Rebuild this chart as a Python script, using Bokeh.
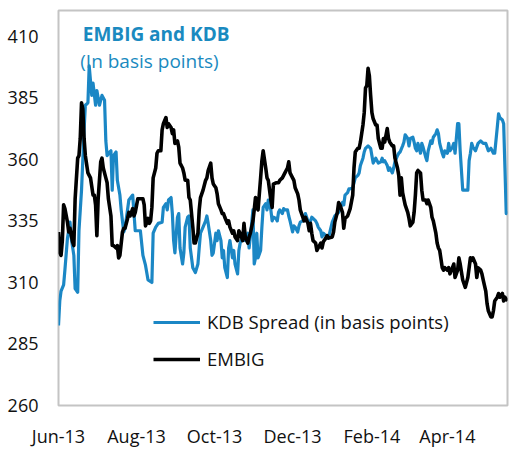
import pandas as pd
from bokeh.plotting import figure
from bokeh.models import Range1d, FixedTicker, DatetimeTickFormatter, Legend, LegendItem, Label
from bokeh.embed import file_html
from bokeh.resources import INLINE

# ---------------- data ----------------
kdb_dates = [
    "2013-06-01", "2013-06-02", "2013-06-03", "2013-06-05", "2013-06-06", "2013-06-08", "2013-06-10", "2013-06-11", "2013-06-13", "2013-06-14",
    "2013-06-16", "2013-06-17", "2013-06-19", "2013-06-21", "2013-06-22", "2013-06-24", "2013-06-25", "2013-06-27", "2013-06-28", "2013-06-30",
    "2013-07-01", "2013-07-03", "2013-07-05", "2013-07-07", "2013-07-08", "2013-07-09", "2013-07-11", "2013-07-12", "2013-07-13", "2013-07-14",
    "2013-07-16", "2013-07-17", "2013-07-19", "2013-07-20", "2013-07-22", "2013-07-23", "2013-07-26", "2013-07-29", "2013-07-31",
    "2013-08-02", "2013-08-04", "2013-08-06", "2013-08-08", "2013-08-10", "2013-08-13", "2013-08-14", "2013-08-16", "2013-08-18", "2013-08-21",
    "2013-08-22", "2013-08-24", "2013-08-25", "2013-08-26", "2013-08-28", "2013-08-29", "2013-08-30", "2013-08-31",
    "2013-09-02", "2013-09-03", "2013-09-04", "2013-09-06", "2013-09-07", "2013-09-08", "2013-09-10", "2013-09-11", "2013-09-12", "2013-09-14",
    "2013-09-16", "2013-09-18", "2013-09-19", "2013-09-20", "2013-09-22", "2013-09-24", "2013-09-25", "2013-09-26", "2013-09-28", "2013-09-29", "2013-09-30",
    "2013-10-02", "2013-10-03", "2013-10-04", "2013-10-06", "2013-10-07", "2013-10-08", "2013-10-09", "2013-10-11", "2013-10-12", "2013-10-13",
    "2013-10-15", "2013-10-16", "2013-10-17", "2013-10-19", "2013-10-20", "2013-10-21", "2013-10-23", "2013-10-24", "2013-10-25", "2013-10-27",
    "2013-10-28", "2013-10-29", "2013-10-31",
    "2013-11-01", "2013-11-02", "2013-11-03", "2013-11-04", "2013-11-06", "2013-11-07", "2013-11-08", "2013-11-10", "2013-11-11", "2013-11-12",
    "2013-11-14", "2013-11-15", "2013-11-16", "2013-11-18", "2013-11-19", "2013-11-20", "2013-11-21", "2013-11-23", "2013-11-24", "2013-11-25",
    "2013-11-27", "2013-11-28", "2013-11-29",
    "2013-12-01", "2013-12-02", "2013-12-03", "2013-12-05", "2013-12-06", "2013-12-07", "2013-12-09", "2013-12-11", "2013-12-13", "2013-12-14",
    "2013-12-15", "2013-12-16", "2013-12-17", "2013-12-19", "2013-12-20", "2013-12-21", "2013-12-23", "2013-12-24", "2013-12-25", "2013-12-27",
    "2013-12-28", "2013-12-29",
    "2014-01-01", "2014-01-03", "2014-01-06", "2014-01-09", "2014-01-10", "2014-01-11", "2014-01-13", "2014-01-14", "2014-01-15", "2014-01-17",
    "2014-01-18", "2014-01-19", "2014-01-21", "2014-01-22", "2014-01-23", "2014-01-25", "2014-01-26", "2014-01-27", "2014-01-28", "2014-01-29", "2014-01-31",
    "2014-02-01", "2014-02-02", "2014-02-04", "2014-02-05", "2014-02-06", "2014-02-08", "2014-02-09", "2014-02-10", "2014-02-11", "2014-02-13",
    "2014-02-14", "2014-02-15", "2014-02-17", "2014-02-18", "2014-02-19", "2014-02-21", "2014-02-22", "2014-02-23", "2014-02-25", "2014-02-26", "2014-02-27",
    "2014-03-01", "2014-03-02", "2014-03-03", "2014-03-05", "2014-03-06", "2014-03-07", "2014-03-08", "2014-03-09", "2014-03-11", "2014-03-12",
    "2014-03-13", "2014-03-15", "2014-03-16", "2014-03-17", "2014-03-19", "2014-03-20", "2014-03-21", "2014-03-23", "2014-03-24", "2014-03-25",
    "2014-03-26", "2014-03-28", "2014-03-29", "2014-03-30",
    "2014-04-01", "2014-04-02", "2014-04-03", "2014-04-05", "2014-04-06", "2014-04-07", "2014-04-09", "2014-04-10", "2014-04-11", "2014-04-13",
    "2014-04-15", "2014-04-17", "2014-04-18", "2014-04-19", "2014-04-20", "2014-04-21", "2014-04-23", "2014-04-24", "2014-04-25", "2014-04-27",
    "2014-04-28", "2014-04-29",
    "2014-05-01", "2014-05-02", "2014-05-03", "2014-05-05", "2014-05-06", "2014-05-07", "2014-05-08", "2014-05-10", "2014-05-11", "2014-05-12",
    "2014-05-14", "2014-05-15", "2014-05-16", "2014-05-17", "2014-05-18",
]
kdb_values = [
    292.5, 302.5, 306.5, 309, 315, 328, 334.5, 328, 321, 307.5,
    306, 331, 347.5, 372, 382, 383, 398, 386, 391, 382,
    388, 382, 386, 384, 367.5, 361.5, 363, 363.5, 347.5, 361.5,
    363, 351.5, 345.5, 339.5, 330.5, 332, 343.5, 345.5, 331,
    331, 331, 321, 317, 311, 310, 330, 332.5, 334, 334.5,
    340.5, 342, 339.5, 343.5, 344.5, 338, 327, 322,
    336.5, 338, 324, 317.5, 322, 332.5, 336.5, 337, 324, 316,
    314, 317.5, 324, 330, 332.5, 335, 337, 334, 327, 321, 322,
    330, 327, 331, 327, 320, 323, 316, 312, 324, 327,
    320, 323, 317.5, 313.5, 323, 326, 328.5, 331, 327, 330,
    324, 328.5, 339.5,
    317.5, 320, 330, 320, 323, 332.5, 340.5, 342, 339.5, 343.5,
    339.5, 335, 336.5, 336, 335, 338.5, 339.5, 338, 340, 339.5,
    339.5, 337, 335,
    330.5, 333, 332.5, 330.5, 333, 334.5, 335, 338, 335, 334,
    335, 336.5, 336, 335, 334, 332.5, 331, 328.5, 330, 329,
    328.5, 328,
    334.5, 337, 338.5, 342.5, 341.5, 345.5, 346.5, 348, 348, 348.5,
    350.5, 352.5, 353.5, 354.5, 357.5, 360.5, 363, 364.5, 365, 365.5, 364.5,
    361.5, 358.5, 360.5, 359.5, 358.5, 359, 360.5, 359, 359.5, 357.5,
    355.5, 356.5, 354.5, 356.5, 359, 361.5, 362.5, 363, 365.5, 367, 370,
    368.5, 365.5, 368.5, 369, 367, 364.5, 363.5, 366.5, 362.5, 366.5,
    365, 361, 359.5, 363.5, 367.5, 366.5, 369, 370.5, 372, 370.5,
    366.5, 362.5, 361, 363.5,
    362.5, 366.5, 363.5, 365, 366.5, 362.5, 374.5, 374.5, 363.5, 347.5,
    347.5, 347.5, 359.5, 362.5, 366.5, 365, 363.5, 365, 366.5, 367.5,
    367, 366.5,
    366.5, 365, 363.5, 364.5, 363.5, 362.5, 362.5, 373, 378.5, 377,
    376, 374.5, 356.5, 338, 339,
]

embig_dates = [
    "2013-06-01", "2013-06-02", "2013-06-03", "2013-06-04", "2013-06-05", "2013-06-06", "2013-06-08", "2013-06-09", "2013-06-10", "2013-06-12",
    "2013-06-13", "2013-06-14", "2013-06-16", "2013-06-17", "2013-06-18", "2013-06-19", "2013-06-20", "2013-06-21", "2013-06-22", "2013-06-24",
    "2013-06-25", "2013-06-26", "2013-06-28", "2013-06-29", "2013-06-30",
    "2013-07-01", "2013-07-02", "2013-07-04", "2013-07-05", "2013-07-06", "2013-07-08", "2013-07-09", "2013-07-10", "2013-07-12", "2013-07-13",
    "2013-07-14", "2013-07-16", "2013-07-17", "2013-07-18", "2013-07-19", "2013-07-21", "2013-07-22", "2013-07-23", "2013-07-25", "2013-07-26",
    "2013-07-27", "2013-07-29", "2013-07-30", "2013-07-31",
    "2013-08-02", "2013-08-03", "2013-08-06", "2013-08-07", "2013-08-08", "2013-08-10", "2013-08-11", "2013-08-12", "2013-08-13", "2013-08-14",
    "2013-08-16", "2013-08-17", "2013-08-18", "2013-08-20", "2013-08-21", "2013-08-22", "2013-08-24", "2013-08-25", "2013-08-26", "2013-08-28",
    "2013-08-29", "2013-08-30", "2013-08-31",
    "2013-09-02", "2013-09-03", "2013-09-04", "2013-09-06", "2013-09-07", "2013-09-08", "2013-09-10", "2013-09-11", "2013-09-12", "2013-09-14",
    "2013-09-15", "2013-09-16", "2013-09-18", "2013-09-19", "2013-09-20", "2013-09-21", "2013-09-22", "2013-09-24", "2013-09-25", "2013-09-26",
    "2013-09-28", "2013-09-29", "2013-09-30",
    "2013-10-02", "2013-10-03", "2013-10-04", "2013-10-06", "2013-10-07", "2013-10-08", "2013-10-09", "2013-10-11", "2013-10-12", "2013-10-13",
    "2013-10-15", "2013-10-16", "2013-10-17", "2013-10-19", "2013-10-20", "2013-10-21", "2013-10-23", "2013-10-24", "2013-10-25", "2013-10-27",
    "2013-10-28", "2013-10-29", "2013-10-31",
    "2013-11-01", "2013-11-02", "2013-11-03", "2013-11-04", "2013-11-06", "2013-11-07", "2013-11-08", "2013-11-10", "2013-11-11", "2013-11-12",
    "2013-11-14", "2013-11-15", "2013-11-16", "2013-11-18", "2013-11-20", "2013-11-21", "2013-11-23", "2013-11-24", "2013-11-25", "2013-11-27",
    "2013-11-28", "2013-11-29",
    "2013-12-01", "2013-12-02", "2013-12-03", "2013-12-05", "2013-12-06", "2013-12-07", "2013-12-09", "2013-12-10", "2013-12-11", "2013-12-13",
    "2013-12-14", "2013-12-15", "2013-12-16", "2013-12-17", "2013-12-19", "2013-12-20", "2013-12-21", "2013-12-23", "2013-12-24", "2013-12-25",
    "2013-12-27", "2013-12-28", "2013-12-29",
    "2014-01-01", "2014-01-02", "2014-01-03", "2014-01-05", "2014-01-06", "2014-01-07", "2014-01-09", "2014-01-10", "2014-01-11", "2014-01-13",
    "2014-01-14", "2014-01-15", "2014-01-17", "2014-01-18", "2014-01-19", "2014-01-21", "2014-01-22", "2014-01-23", "2014-01-25", "2014-01-26",
    "2014-01-27", "2014-01-28", "2014-01-29", "2014-01-30", "2014-01-31",
    "2014-02-01", "2014-02-02", "2014-02-04", "2014-02-05", "2014-02-06", "2014-02-08", "2014-02-09", "2014-02-10", "2014-02-11", "2014-02-13",
    "2014-02-14", "2014-02-15", "2014-02-17", "2014-02-18", "2014-02-19", "2014-02-21", "2014-02-22", "2014-02-23", "2014-02-24", "2014-02-25",
    "2014-02-26", "2014-02-27",
    "2014-03-01", "2014-03-02", "2014-03-03", "2014-03-05", "2014-03-06", "2014-03-07", "2014-03-08", "2014-03-09", "2014-03-11", "2014-03-12",
    "2014-03-13", "2014-03-15", "2014-03-16", "2014-03-17", "2014-03-19", "2014-03-20", "2014-03-21", "2014-03-23", "2014-03-24", "2014-03-25",
    "2014-03-26", "2014-03-28", "2014-03-29", "2014-03-30",
    "2014-04-01", "2014-04-02", "2014-04-03", "2014-04-05", "2014-04-06", "2014-04-07", "2014-04-09", "2014-04-10", "2014-04-11", "2014-04-13",
    "2014-04-15", "2014-04-17", "2014-04-18", "2014-04-19", "2014-04-20", "2014-04-21", "2014-04-23", "2014-04-24", "2014-04-25", "2014-04-27",
    "2014-04-28", "2014-04-29",
    "2014-05-01", "2014-05-02", "2014-05-03", "2014-05-05", "2014-05-06", "2014-05-07", "2014-05-08", "2014-05-10", "2014-05-11", "2014-05-12",
    "2014-05-14", "2014-05-15", "2014-05-16", "2014-05-18",
]
embig_values = [
    330.5, 322, 321, 327, 341.5, 340, 334.5, 330.5, 332, 326.5,
    325, 344, 360.5, 361.5, 368.5, 383, 380.5, 368.5, 361.5, 354.5,
    353.5, 352.5, 345.5, 345.5, 341.5,
    329, 344, 359, 360.5, 356.5, 352.5, 350.5, 344, 337, 325,
    325, 324, 325, 320, 321, 330.5, 332, 332, 336, 338.5,
    337, 340, 337, 338.5,
    344, 344, 344, 341.5, 333, 336, 334, 335, 340.5, 352.5,
    356.5, 362.5, 363.5, 363.5, 372, 374.5, 377, 373, 374.5, 373,
    370.5, 372, 366.5,
    367.5, 365, 358.5, 356.5, 354.5, 351.5, 351.5, 344.5, 343.5, 332.5,
    326, 326, 330, 339.5, 344.5, 346, 347.5, 351.5, 352.5, 355.5,
    358.5, 352.5, 350,
    348.5, 346, 342, 339.5, 338, 338, 336.5, 334, 335, 332.5,
    330, 331, 328.5, 327, 331, 330, 327, 334, 328.5, 326,
    328.5, 330, 335,
    339.5, 344.5, 340.5, 339.5, 352.5, 359.5, 363.5, 356.5, 352.5, 351.5,
    343.5, 340.5, 350, 350.5, 350.5, 351.5, 352.5, 353.5, 354.5, 356.5,
    359, 354.5,
    352.5, 351.5, 348.5, 346, 343.5, 339.5, 336.5, 335, 336.5, 334,
    331, 334, 330, 327, 326, 323, 324, 326, 324, 326.5,
    328, 329, 328,
    328.5, 330.5, 334.5, 338.5, 342.5, 341.5, 338.5, 332, 336, 337,
    338.5, 340, 345.5, 356.5, 363, 364.5, 364.5, 367, 374, 379,
    389, 390, 397, 394, 386,
    379, 376.5, 374, 374, 368.5, 364.5, 364.5, 368.5, 367, 372.5,
    368.5, 367, 365.5, 365.5, 360.5, 356.5, 353.5, 345.5, 352.5, 346.5,
    344, 341.5,
    338.5, 336, 333, 334.5, 338.5, 345.5, 354.5, 355.5, 354.5, 347.5,
    343.5, 343.5, 342, 343.5, 340.5, 336.5, 335, 330, 326, 324,
    323, 316, 315, 316,
    315, 316, 313.5, 316, 317.5, 312, 315, 320, 317.5, 311,
    308, 312, 316, 320, 319, 320, 317.5, 312, 316, 315,
    313.5, 311,
    306.5, 301.5, 298.5, 296, 296, 298.5, 302.5, 304, 305.5, 304,
    305.5, 302.5, 304, 302.5,
]

x_tick_dates = ["2013-06-01", "2013-08-01", "2013-10-01", "2013-12-01", "2014-02-01", "2014-04-01"]
x_start, x_end = "2013-06-01", "2014-05-18"
y_ticks = [260, 285, 310, 335, 360, 385, 410]
y_start, y_end = 260, 420.5

title_text = "EMBIG and KDB"
subtitle_text = "(In basis points)"
kdb_label = "KDB Spread (in basis points)"
embig_label = "EMBIG"

assert len(kdb_dates) == len(kdb_values), (len(kdb_dates), len(kdb_values))
assert len(embig_dates) == len(embig_values), (len(embig_dates), len(embig_values))

# ---------------- styling ----------------
BLUE = "#1B87C5"
TITLE_BLUE = "#1A8AC0"
FONT = "Open Sans"
GRAY = "#C4C4C4"


def ts(s):
    return pd.Timestamp(s)


p = figure(
    x_axis_type="datetime",
    frame_width=449, frame_height=395,
    min_border_left=58, min_border_right=7, min_border_top=10, min_border_bottom=50,
    x_range=Range1d(ts(x_start), ts(x_end)),
    y_range=Range1d(y_start, y_end),
    output_backend="svg", toolbar_location=None,
)
p.background_fill_color = "white"
p.border_fill_color = "white"
p.outline_line_color = GRAY
p.outline_line_width = 2
p.xgrid.visible = False
p.ygrid.visible = False

kdb_x = [ts(d) for d in kdb_dates]
embig_x = [ts(d) for d in embig_dates]

r_kdb = p.line(kdb_x, kdb_values, line_color=BLUE, line_width=3.2, line_join="round")
r_emb = p.line(embig_x, embig_values, line_color="black", line_width=3.6, line_join="round")

# axes
p.xaxis.ticker = FixedTicker(ticks=[ts(d).timestamp() * 1000 for d in x_tick_dates])
fmt = "%b-%y"
p.xaxis.formatter = DatetimeTickFormatter(
    milliseconds=fmt, seconds=fmt, minsec=fmt, minutes=fmt, hourmin=fmt, hours=fmt,
    days=fmt, months=fmt, years=fmt,
)
p.yaxis.ticker = FixedTicker(ticks=y_ticks)
for ax in (p.xaxis[0], p.yaxis[0]):
    ax.axis_line_color = None
    ax.major_tick_line_color = None
    ax.minor_tick_line_color = None
    ax.major_tick_out = 0
    ax.major_tick_in = 0
    ax.minor_tick_out = 0
    ax.major_label_text_font = FONT
    ax.major_label_text_font_size = "18px"
    ax.major_label_text_color = "#111111"
p.yaxis.major_label_standoff = 20
p.xaxis.major_label_standoff = 18

# title inside plot area
p.add_layout(Label(x=ts("2013-06-20"), y=410.8, text=title_text, text_font=FONT,
                   text_font_size="19px", text_font_style="bold", text_color=TITLE_BLUE,
                   text_baseline="alphabetic"))
p.add_layout(Label(x=ts("2013-06-18"), y=400.0, text=subtitle_text, text_font=FONT,
                   text_font_size="19px", text_color=TITLE_BLUE, text_baseline="alphabetic"))

legend = Legend(
    items=[LegendItem(label=kdb_label, renderers=[r_kdb]),
           LegendItem(label=embig_label, renderers=[r_emb])],
    location=(95, 34),
    padding=0, margin=0, spacing=12,
    glyph_width=47, glyph_height=20, label_height=20, label_standoff=7,
    label_text_font=FONT, label_text_font_size="18.5px", label_text_color="#111111",
    background_fill_alpha=0, border_line_alpha=0,
)
p.add_layout(legend, "center")

open("out.html", "w").write(file_html(p, INLINE))
